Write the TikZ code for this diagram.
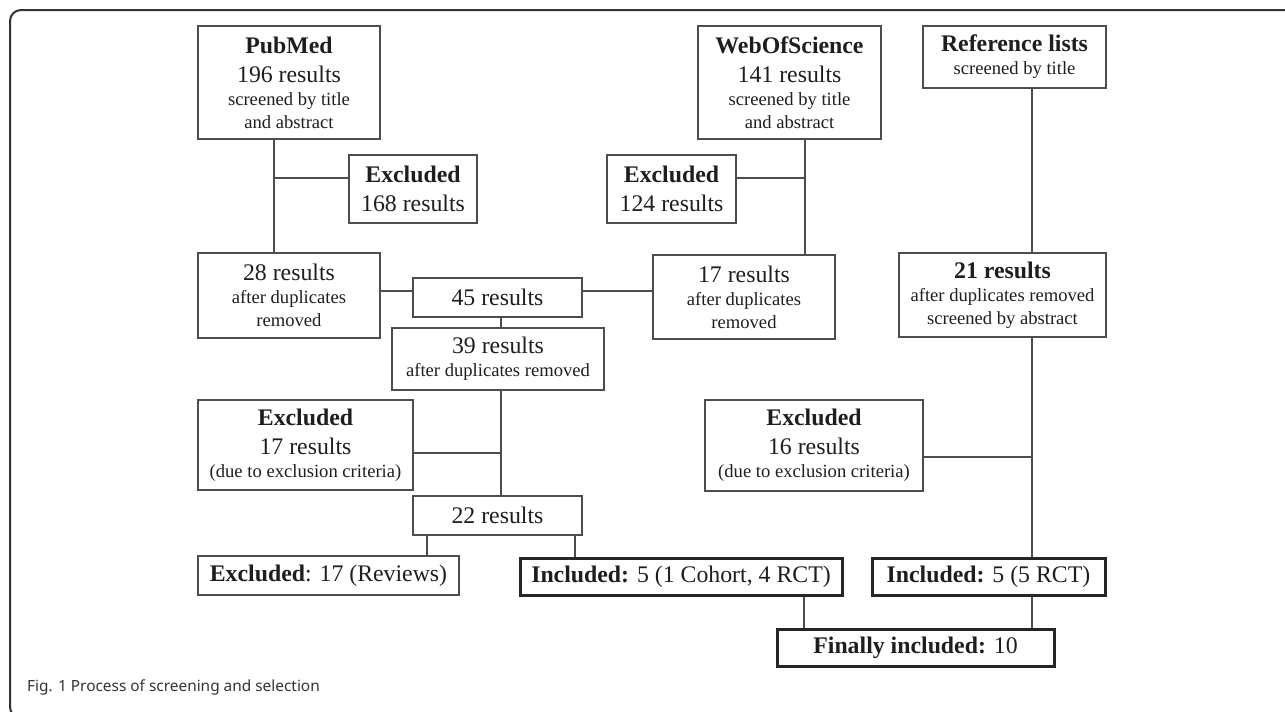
\documentclass[tikz,border=0pt]{standalone}
\usepackage{fontspec}
\setmainfont{Liberation Serif}
\newfontfamily\capfont{Noto Sans}
\usetikzlibrary{calc}
\newcommand\mainfs{\fontsize{23.8}{29}\selectfont}
\newcommand\smallfs{\fontsize{18.6}{23}\selectfont}
\definecolor{linegray}{HTML}{4D4D4D}
\definecolor{textgray}{HTML}{1E1E1E}
\tikzset{
	box/.style={draw=linegray, line width=1.2pt, inner sep=0pt, align=center, font=\mainfs, text=textgray},
	thickbox/.style={box, draw=black!85, line width=3pt},
	link/.style={draw=linegray, line width=1.2pt},
}

\begin{document}
\begin{tikzpicture}[x=1pt,y=-1pt]
			%%%%% START %%%%%
			\useasboundingbox (0,0) rectangle (1285,712);
			\clip (0,0) rectangle (1285,712);
			\draw[line width=2pt, color=black!80, rounded corners=11pt] (10,10) rectangle (1330,718);
			
			% sources
			\node[box, minimum width=182pt, minimum height=113pt] (pubmed) at (289,82.5) {\textbf{PubMed}\\196 results\\[-6pt]{\smallfs screened by title}\\[-6pt]{\smallfs and abstract}};
			\node[box, minimum width=183pt, minimum height=113pt] (wos) at (789.5,82.5) {\textbf{WebOfScience}\\141 results\\[-6pt]{\smallfs screened by title}\\[-6pt]{\smallfs and abstract}};
			\node[box, minimum width=183pt, minimum height=62pt] (ref) at (1014.5,57) {\textbf{Reference lists}\\[-6pt]{\smallfs screened by title}};
			
			\node[box, minimum width=128pt, minimum height=68pt] (exc168) at (413,189) {\textbf{Excluded}\\168 results};
			\node[box, minimum width=129pt, minimum height=68pt] (exc124) at (671.5,189) {\textbf{Excluded}\\124 results};
			
			% after duplicates
			\node[box, minimum width=182pt, minimum height=85pt] (res28) at (289,295.5) {28 results\\[-6pt]{\smallfs after duplicates}\\[-6pt]{\smallfs removed}};
			\node[box, minimum width=169pt, minimum height=39pt] (res45) at (497.5,297.5) {45 results};
			\node[box, minimum width=182pt, minimum height=84pt] (res17) at (744,297) {17 results\\[-6pt]{\smallfs after duplicates}\\[-6pt]{\smallfs removed}};
			\node[box, minimum width=207pt, minimum height=84pt] (res21) at (1002.5,295) {\textbf{21 results}\\[-6pt]{\smallfs after duplicates removed}\\[-6pt]{\smallfs screened by abstract}};
			\node[box, minimum width=212pt, minimum height=62pt] (res39) at (498,359) {39 results\\[-6pt]{\smallfs after duplicates removed}};
			
			\node[box, minimum width=215pt, minimum height=90pt] (exc17) at (305.5,445) {\textbf{Excluded}\\17 results\\[-6pt]{\smallfs (due to exclusion criteria)}};
			\node[box, minimum width=218pt, minimum height=91pt] (exc16) at (814,445.5) {\textbf{Excluded}\\16 results\\[-6pt]{\smallfs (due to exclusion criteria)}};
			
			\node[box, minimum width=169pt, minimum height=39pt] (res22) at (497.5,515.5) {22 results};
			\node[box, minimum width=261pt, minimum height=39pt] (excrev) at (328.5,575.5) {\textbf{Excluded}: 17 (Reviews)};
			\node[thickbox, minimum width=322pt, minimum height=37pt] (inc1) at (681,576.5) {\textbf{Included:} 5 (1 Cohort, 4 RCT)};
			\node[thickbox, minimum width=233pt, minimum height=37pt] (inc2) at (988.5,576.5) {\textbf{Included:} 5 (5 RCT)};
			\node[thickbox, minimum width=277pt, minimum height=37pt] (final) at (915.5,647.5) {\textbf{Finally included:} 10};
			
			% junctions
			\coordinate (pmtrunk) at (274,178);
			\coordinate (wostrunk) at (805,178);
			\coordinate (reftrunk) at (1032,457);
			\coordinate (mergey) at (0,291);
			\coordinate (midtrunk) at (501,453);
			\coordinate (revx) at (427,0);
			\coordinate (incx) at (575,0);
			\coordinate (finx) at (804,0);
			
			\draw[link] (pubmed.south -| pmtrunk) -- (res28.north -| pmtrunk);
			\draw[link] (pmtrunk) -- (exc168.west |- pmtrunk);
			\draw[link] (wos.south -| wostrunk) -- (res17.north -| wostrunk);
			\draw[link] (wostrunk) -- (exc124.east |- wostrunk);
			\draw[link] (ref.south -| reftrunk) -- (res21.north -| reftrunk);
			\draw[link] (res21.south -| reftrunk) -- (inc2.north -| reftrunk);
			\draw[link] (reftrunk) -- (exc16.east |- reftrunk);
			
			\draw[link] (res28.east |- mergey) -- (res45.west |- mergey);
			\draw[link] (res45.east |- mergey) -- (res17.west |- mergey);
			\draw[link] (res45.south -| midtrunk) -- (res39.north -| midtrunk);
			\draw[link] (res39.south -| midtrunk) -- (res22.north -| midtrunk);
			\draw[link] (midtrunk) -- (exc17.east |- midtrunk);
			
			\draw[link] (res22.south -| revx) -- (excrev.north -| revx);
			\draw[link] (res22.south -| incx) -- (inc1.north -| incx);
			\draw[link] (inc1.south -| finx) -- (final.north -| finx);
			\draw[link] (inc2.south -| reftrunk) -- (final.north -| reftrunk);
			
			\node[anchor=base west, inner sep=0pt, font=\capfont\fontsize{15.4}{18}\selectfont, text=black!80] (caption) at (27,691) {\textbf{Fig. 1} Process of screening and selection};
			%%%%% END %%%%%
\end{tikzpicture}
\end{document}
